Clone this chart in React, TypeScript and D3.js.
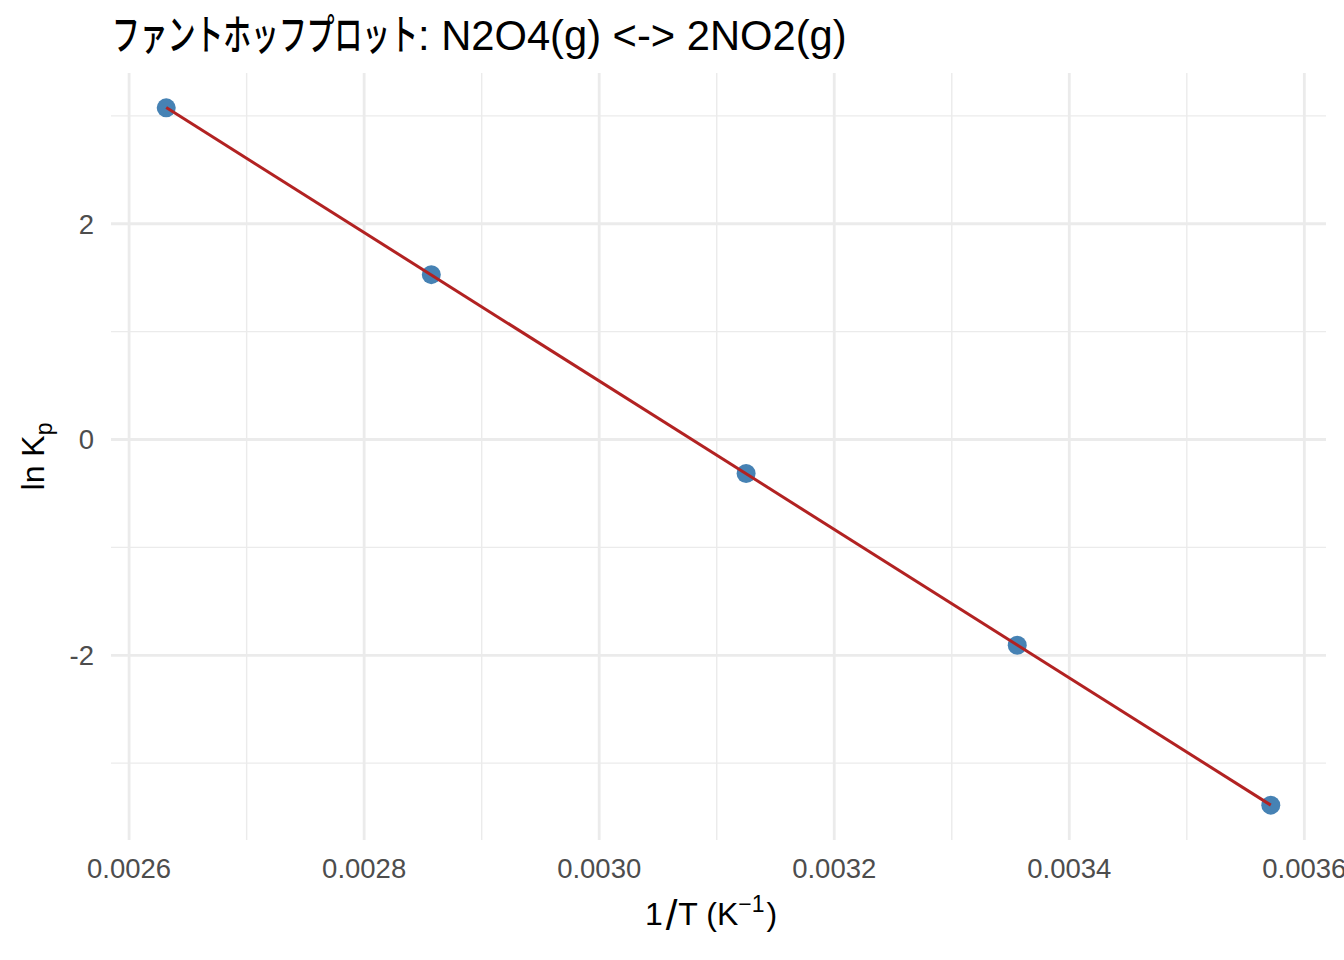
import React, { useRef, useEffect } from 'react';
import * as d3 from 'd3';

// Temperatures (K) and ln Kp
const temps = [380, 350, 320, 298, 280];
const lnKp = [3.074, 1.528, -0.315, -1.907, -3.389];

const xTicks = [0.0026, 0.0028, 0.003, 0.0032, 0.0034, 0.0036];
const xTickLabels = ['0.0026', '0.0028', '0.0030', '0.0032', '0.0034', '0.0036'];
const xMinor = [0.0027, 0.0029, 0.0031, 0.0033, 0.0035];
const yTicks = [-2, 0, 2];
const yTickLabels = ['-2', '0', '2'];
const yMinor = [-3, -1, 1, 3];

const titleJa = 'ファントホッフプロット';
const titleRest = ': N2O4(g) <-> 2NO2(g)';

const WIDTH = 1344;
const HEIGHT = 960;
const panel = { left: 111, right: 1326, top: 73, bottom: 840 };

const FONT = '"Liberation Sans", Arial, "Noto Sans CJK JP", sans-serif';
const GRID = '#EBEBEB';

const App: React.FC = () => {
  const svgRef = useRef<SVGSVGElement | null>(null);

  useEffect(() => {
    if (!svgRef.current) return;
    const svg = d3.select(svgRef.current);
    svg.selectAll('*').remove();

    const data = temps.map((t, i) => ({ x: 1 / t, y: lnKp[i] }));

    // ggplot-style 5% expansion
    const xExt = d3.extent(data, (d) => d.x) as [number, number];
    const yExt = d3.extent(data, (d) => d.y) as [number, number];
    const xPad = (xExt[1] - xExt[0]) * 0.05;
    const yPad = (yExt[1] - yExt[0]) * 0.05;

    const xScale = d3
      .scaleLinear()
      .domain([xExt[0] - xPad, xExt[1] + xPad])
      .range([panel.left, panel.right]);
    const yScale = d3
      .scaleLinear()
      .domain([yExt[0] - yPad, yExt[1] + yPad])
      .range([panel.bottom, panel.top]);

    // Grid - minor first, then major
    const grid = svg.append('g');
    const vLines = (vals: number[], w: number) =>
      grid
        .append('g')
        .selectAll('line')
        .data(vals)
        .enter()
        .append('line')
        .attr('x1', (d) => xScale(d))
        .attr('x2', (d) => xScale(d))
        .attr('y1', panel.top)
        .attr('y2', panel.bottom)
        .attr('stroke', GRID)
        .attr('stroke-width', w);
    const hLines = (vals: number[], w: number) =>
      grid
        .append('g')
        .selectAll('line')
        .data(vals)
        .enter()
        .append('line')
        .attr('x1', panel.left)
        .attr('x2', panel.right)
        .attr('y1', (d) => yScale(d))
        .attr('y2', (d) => yScale(d))
        .attr('stroke', GRID)
        .attr('stroke-width', w);
    vLines(xMinor, 1.4);
    hLines(yMinor, 1.4);
    vLines(xTicks, 2.8);
    hLines(yTicks, 2.8);

    // Points
    svg
      .append('g')
      .selectAll('circle')
      .data(data)
      .enter()
      .append('circle')
      .attr('cx', (d) => xScale(d.x))
      .attr('cy', (d) => yScale(d.y))
      .attr('r', 9.5)
      .attr('fill', '#4682B4');

    // Linear fit (lm) over data range
    const mx = d3.mean(data, (d) => d.x) as number;
    const my = d3.mean(data, (d) => d.y) as number;
    const sxy = d3.sum(data, (d) => (d.x - mx) * (d.y - my));
    const sxx = d3.sum(data, (d) => (d.x - mx) ** 2);
    const slope = sxy / sxx;
    const intercept = my - slope * mx;
    const fit = xExt.map((x) => ({ x, y: intercept + slope * x }));

    const line = d3
      .line<{ x: number; y: number }>()
      .x((d) => xScale(d.x))
      .y((d) => yScale(d.y));
    svg
      .append('path')
      .datum(fit)
      .attr('fill', 'none')
      .attr('stroke', '#B22222')
      .attr('stroke-width', 3)
      .attr('d', line);

    // Tick labels
    svg
      .append('g')
      .selectAll('text')
      .data(xTicks)
      .enter()
      .append('text')
      .attr('x', (d) => xScale(d))
      .attr('y', 878)
      .attr('text-anchor', 'middle')
      .attr('fill', '#4D4D4D')
      .style('font-family', FONT)
      .style('font-size', '27.5px')
      .text((d, i) => xTickLabels[i]);

    svg
      .append('g')
      .selectAll('text')
      .data(yTicks)
      .enter()
      .append('text')
      .attr('x', 94)
      .attr('y', (d) => yScale(d))
      .attr('dy', '0.36em')
      .attr('text-anchor', 'end')
      .attr('fill', '#4D4D4D')
      .style('font-family', FONT)
      .style('font-size', '27.5px')
      .text((d, i) => yTickLabels[i]);

    // Title: kana squeezed to match the narrower Windows font
    const title = svg
      .append('text')
      .attr('x', panel.left + 1)
      .attr('y', 50)
      .attr('fill', '#000')
      .style('font-family', FONT)
      .style('font-size', '41.7px');
    title
      .append('tspan')
      .attr('textLength', 306)
      .attr('lengthAdjust', 'spacingAndGlyphs')
      .style('font-family', '"Noto Sans CJK JP", sans-serif')
      .style('font-size', '42px')
      .style('font-weight', '500')
      .text(titleJa);
    title.append('tspan').text(titleRest);

    // X axis title: 1/T (K^-1)
    const xt = svg
      .append('text')
      .attr('x', 711)
      .attr('y', 925)
      .attr('text-anchor', 'middle')
      .attr('fill', '#000')
      .style('font-family', FONT)
      .style('font-size', '32px');
    xt.append('tspan').text('1');
    xt.append('tspan').attr('dx', 3).attr('dy', 5).style('font-size', '42px').text('/');
    xt.append('tspan').attr('dx', 1).attr('dy', -5).text('T (K');
    xt.append('tspan').attr('dy', -13).style('font-size', '23px').text('−1');
    xt.append('tspan').attr('dx', 2).attr('dy', 13).text(')');

    // Y axis title: ln Kp
    const yt = svg
      .append('text')
      .attr('transform', `translate(44,${(panel.top + panel.bottom) / 2}) rotate(-90)`)
      .attr('text-anchor', 'middle')
      .attr('fill', '#000')
      .style('font-family', FONT)
      .style('font-size', '32px');
    yt.append('tspan').text('ln K');
    yt.append('tspan').attr('dy', 8).style('font-size', '23px').text('p');
  }, []);

  return (
    <svg
      ref={svgRef}
      width={WIDTH}
      height={HEIGHT}
      style={{ position: 'absolute', left: 0, top: 0, background: '#fff' }}
    ></svg>
  );
};

export default App;
